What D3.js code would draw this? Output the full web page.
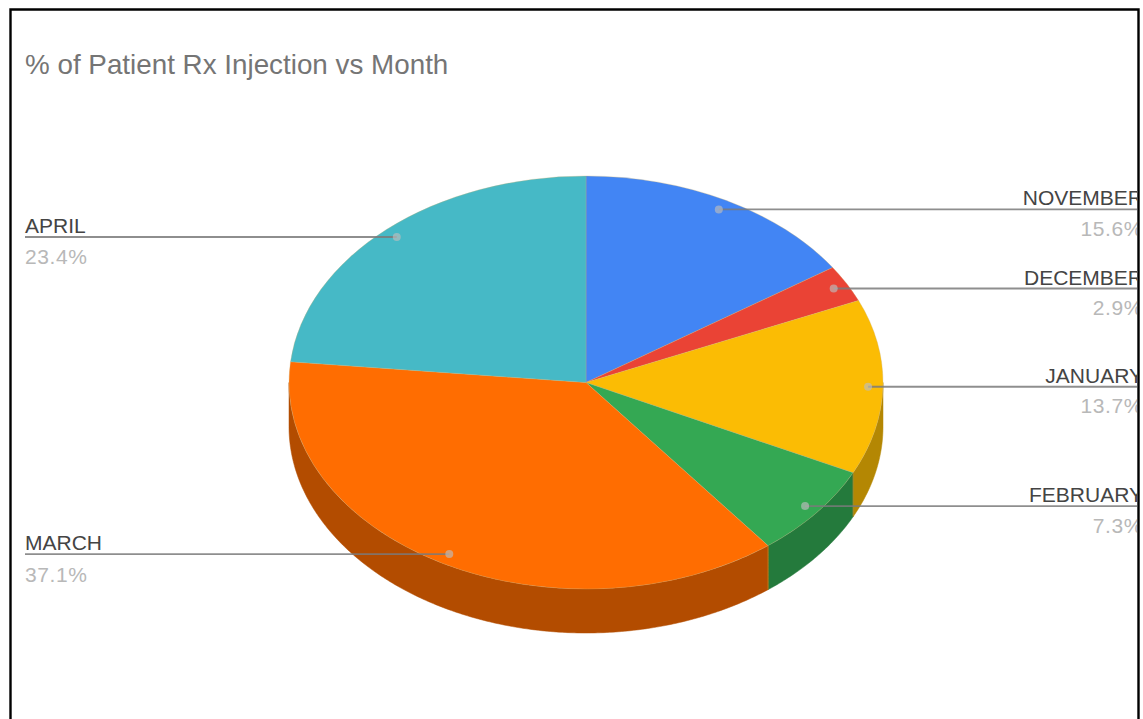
<!DOCTYPE html>
<html>
<head>
<meta charset="utf-8">
<title>% of Patient Rx Injection vs Month</title>
<script src="https://cdn.jsdelivr.net/npm/d3@7"></script>
<style>
  html, body { margin: 0; padding: 0; background: #fff; overflow: hidden; }
  svg { display: block; font-family: "Liberation Sans", Arial, sans-serif; }
</style>
</head>
<body>
<svg id="chart" width="1143" height="719"></svg>
<script>
// Share of patient Rx injections per month, clockwise from twelve o'clock
const months = ["NOVEMBER", "DECEMBER", "JANUARY", "FEBRUARY", "MARCH", "APRIL"];
const shares = [15.6, 2.9, 13.7, 7.3, 37.1, 23.4];
const topColors = ["#4285f4", "#ea4335", "#fbbc04", "#34a853", "#ff6d01", "#46b9c6"];
const wallColors = ["#2e5daa", "#a32f25", "#b48703", "#247a3c", "#b34c00", "#318489"];
const chartTitle = "% of Patient Rx Injection vs Month";

const W = 1143, H = 719;
const cx = 586, cy = 382.5, rx = 297, ry = 206.5, depth = 44;
const leaderFraction = 0.95;
const leftEdge = 25, rightEdge = 1143;

const svg = d3.select("#chart");

svg.append("defs").append("clipPath").attr("id", "panel")
  .append("rect").attr("x", 11).attr("y", 10).attr("width", 1126).attr("height", H);

const pie = d3.pie().sort(null).value(d => d.share).startAngle(0).endAngle(2 * Math.PI);
const arcs = pie(months.map((m, i) => ({ month: m, share: shares[i], i })));

// Ellipse point for an angle measured clockwise from the top of the disc
const px = a => cx + rx * Math.sin(a);
const py = a => cy - ry * Math.cos(a);

// Title
svg.append("text")
  .attr("x", 25).attr("y", 74)
  .attr("font-size", 27.8).attr("fill", "#757575")
  .text(chartTitle);

const chart = svg.append("g").attr("clip-path", "url(#panel)");

// Side wall: only the front half of the rim (90 to 270 degrees) is visible
const wallLine = d3.line().x(d => d[0]).y(d => d[1]);
const frontStart = Math.PI / 2, frontEnd = 3 * Math.PI / 2;

chart.append("g").selectAll("path")
  .data(arcs.filter(d => d.endAngle > frontStart && d.startAngle < frontEnd))
  .join("path")
  .attr("fill", d => wallColors[d.data.i])
  .attr("stroke", d => wallColors[d.data.i])
  .attr("stroke-width", 0.5)
  .attr("d", d => {
    const a0 = Math.max(d.startAngle, frontStart);
    const a1 = Math.min(d.endAngle, frontEnd);
    const angles = d3.range(a0, a1, 0.01).concat([a1]);
    const upper = angles.map(a => [px(a), py(a)]);
    const lower = angles.slice().reverse().map(a => [px(a), py(a) + depth]);
    return wallLine(upper.concat(lower)) + "Z";
  });

// Seams between neighbouring wall sections
chart.append("g").selectAll("line")
  .data(arcs.filter(d => d.endAngle > frontStart && d.endAngle < frontEnd))
  .join("line")
  .attr("x1", d => px(d.endAngle)).attr("x2", d => px(d.endAngle))
  .attr("y1", d => py(d.endAngle)).attr("y2", d => py(d.endAngle) + depth)
  .attr("stroke", "#d08a20").attr("stroke-opacity", 0.7).attr("stroke-width", 1);

// Top face: a circular pie flattened into an ellipse
const arc = d3.arc().innerRadius(0).outerRadius(rx);
chart.append("g")
  .attr("transform", `translate(${cx},${cy}) scale(1,${ry / rx})`)
  .selectAll("path")
  .data(arcs)
  .join("path")
  .attr("d", arc)
  .attr("fill", d => topColors[d.data.i])
  .attr("stroke", "#c9b070")
  .attr("stroke-opacity", 0.45)
  .attr("stroke-width", 0.8);

// Leader lines and their anchor dots
const midAngle = d => (d.startAngle + d.endAngle) / 2;
const anchorX = d => cx + rx * leaderFraction * Math.sin(midAngle(d));
const anchorY = d => cy - ry * leaderFraction * Math.cos(midAngle(d));
const isRight = d => midAngle(d) < Math.PI;

chart.append("g").selectAll("line")
  .data(arcs)
  .join("line")
  .attr("x1", anchorX)
  .attr("y1", anchorY)
  .attr("x2", d => isRight(d) ? 1137 : leftEdge)
  .attr("y2", anchorY)
  .attr("stroke", "#7a7a7a")
  .attr("stroke-opacity", 0.85)
  .attr("stroke-width", 1.9);

chart.append("g").selectAll("circle")
  .data(arcs)
  .join("circle")
  .attr("cx", anchorX)
  .attr("cy", anchorY)
  .attr("r", 4)
  .attr("fill", "#bdbdbd")
  .attr("fill-opacity", 0.65);

// Month names above each leader, percentages below
const labels = chart.append("g").selectAll("g")
  .data(arcs)
  .join("g")
  .attr("text-anchor", d => isRight(d) ? "end" : "start")
  .attr("transform", d => `translate(${isRight(d) ? rightEdge : leftEdge},${anchorY(d)})`);

labels.append("text")
  .attr("y", -4)
  .attr("font-size", 21)
  .attr("fill", "#444")
  .text(d => d.data.month);

labels.append("text")
  .attr("y", d => isRight(d) ? 26.5 : 27.5)
  .attr("font-size", 21)
  .attr("letter-spacing", 0.6)
  .attr("fill", "#b8b8b8")
  .text(d => d3.format(".1f")(d.data.share) + "%");

// Outer frame: left, top and right rules only
const frame = [[10.5, H], [10.5, 9.5], [1138.5, 9.5], [1138.5, H]];
svg.append("path")
  .attr("d", d3.line()(frame))
  .attr("fill", "none")
  .attr("stroke", "#000")
  .attr("stroke-width", 2.4);
</script>
</body>
</html>
